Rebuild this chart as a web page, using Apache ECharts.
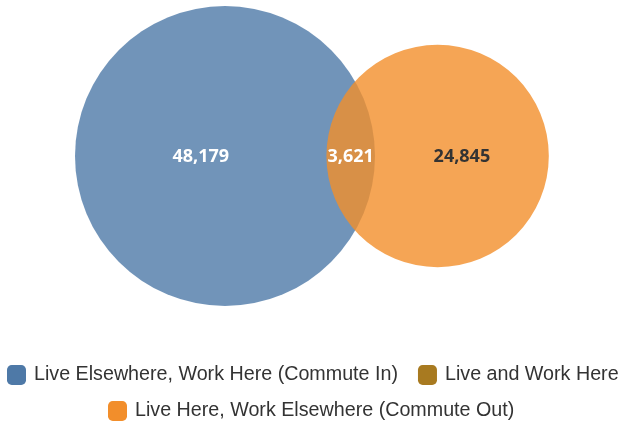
<!DOCTYPE html>
<html>
<head>
<meta charset="utf-8">
<script src="https://cdn.jsdelivr.net/npm/echarts@6/dist/echarts.min.js"></script>
<style>html,body{margin:0;padding:0;background:#fff}#chart{width:618px;height:423px}</style>
</head>
<body>
<div id="chart"></div>
<script>
// Data
const setNames = ['Live Elsewhere, Work Here (Commute In)', 'Live and Work Here', 'Live Here, Work Elsewhere (Commute Out)'];
const setValues = [48179, 3621, 24845]; // A only, A∩B, B only
const setColors = ['#4e79a7', '#a87a20', '#f28e2b'];

// Venn layout computed from data
const areaA = setValues[0] + setValues[1];
const areaB = setValues[2] + setValues[1];
const areaAB = setValues[1];
const rA = Math.sqrt(areaA / Math.PI);
const rB = Math.sqrt(areaB / Math.PI);
function lens(d) {
  if (d >= rA + rB) return 0;
  if (d <= Math.abs(rA - rB)) return Math.PI * Math.min(rA, rB) ** 2;
  const d1 = (d * d + rA * rA - rB * rB) / (2 * d);
  const d2 = d - d1;
  const s1 = rA * rA * Math.acos(d1 / rA) - d1 * Math.sqrt(rA * rA - d1 * d1);
  const s2 = rB * rB * Math.acos(d2 / rB) - d2 * Math.sqrt(rB * rB - d2 * d2);
  return s1 + s2;
}
let lo = Math.abs(rA - rB), hi = rA + rB;
for (let i = 0; i < 100; i++) {
  const mid = (lo + hi) / 2;
  if (lens(mid) > areaAB) lo = mid; else hi = mid;
}
const dist = (lo + hi) / 2;
const cA = [0, 0], cB = [dist, 0];
const labelX = [
  ((cA[0] - rA) + (cB[0] - rB)) / 2,
  ((cB[0] - rB) + (cA[0] + rA)) / 2,
  ((cA[0] + rA) + (cB[0] + rB)) / 2
];

const pxPerUnit = 150 / rA;
const gridW = pxPerUnit * (rA + dist + rB);

const chart = echarts.init(document.getElementById('chart'), null, {renderer: 'canvas'});
const fmt = v => v.toLocaleString('en-US');
const labelFont = {fontFamily: 'Open Sans', fontWeight: 'bold', fontSize: 18};

function circleSeries(idx, center, r, labelColor, alpha) {
  return {
    type: 'custom', name: setNames[idx], coordinateSystem: 'cartesian2d',
    color: setColors[idx], z: 2,
    data: [[center[0], center[1], r, labelX[idx]]],
    renderItem: function (params, api) {
      const c = api.coord([api.value(0), api.value(1)]);
      const rp = api.size([api.value(2), 0])[0];
      const lp = api.coord([api.value(3), 0]);
      return {
        type: 'group', children: [
          {type: 'circle', shape: {cx: c[0], cy: c[1], r: rp}, style: {fill: setColors[idx], opacity: alpha}},
          {type: 'text', x: lp[0], y: lp[1] + 1, z2: 10, style: Object.assign({text: fmt(setValues[idx]), fill: labelColor, align: 'center', verticalAlign: 'middle'}, labelFont)}
        ]
      };
    }
  };
}

const legendText = {fontFamily: 'Liberation Sans', fontSize: 19.7, color: '#333', padding: [0, 0, 0, 3]};
const option = {
  animation: false,
  backgroundColor: '#fff',
  grid: {left: 75, top: 6, width: gridW, height: 300},
  xAxis: {type: 'value', min: cA[0] - rA, max: cB[0] + rB, show: false},
  yAxis: {type: 'value', min: -rA, max: rA, show: false},
  legend: [
    {data: [setNames[0], setNames[1]], left: 7, width: 700, top: 365, icon: 'roundRect', itemWidth: 19, itemHeight: 20, itemGap: 20, padding: 0,
     textStyle: legendText},
    {data: [setNames[2]], left: 108, width: 600, top: 401, icon: 'roundRect', itemWidth: 19, itemHeight: 20, padding: 0,
     textStyle: legendText}
  ],
  series: [
    circleSeries(0, cA, rA, '#fff', 0.8),
    circleSeries(2, cB, rB, '#333', 0.8),
    {
      type: 'custom', name: setNames[1], coordinateSystem: 'cartesian2d', color: setColors[1], z: 3,
      data: [[labelX[1], 0]],
      renderItem: function (params, api) {
        const p = api.coord([api.value(0), api.value(1)]);
        return {type: 'text', x: p[0], y: p[1] + 1, style: Object.assign({text: fmt(setValues[1]), fill: '#fff', align: 'center', verticalAlign: 'middle'}, labelFont)};
      }
    }
  ]
};
chart.setOption(option);
</script>
</body>
</html>
